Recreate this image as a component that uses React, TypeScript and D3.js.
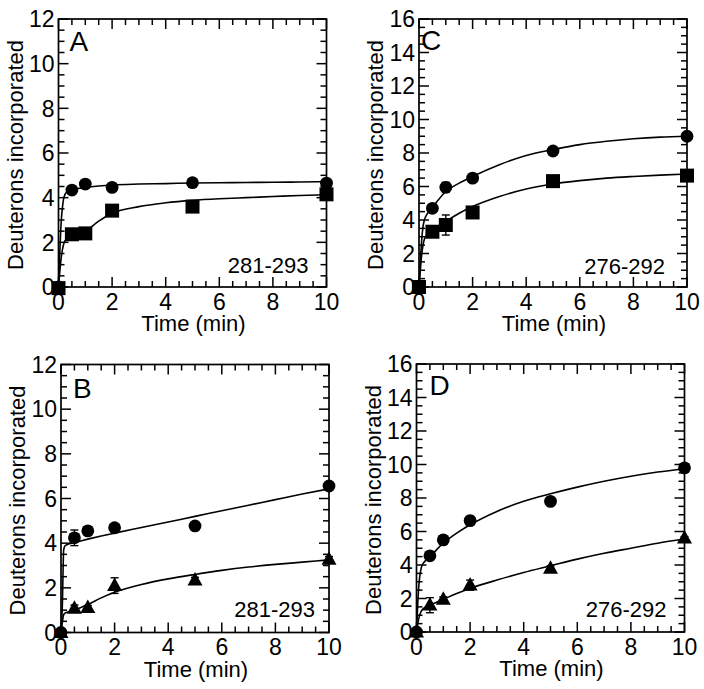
import React from 'react';
import * as d3 from 'd3';

// ---------- data ----------
const times = [0, 0.5, 1, 2, 5, 10];

// Panel A (281-293)
const aCircle = [0, 4.34, 4.61, 4.46, 4.67, 4.65];
const aCircleErr = [0.1, 0.12, 0.12, 0.1, 0.1, 0.15];
const aSquare = [-0.05, 2.36, 2.4, 3.42, 3.6, 4.15];
const aSquareErr = [0.1, 0.1, 0.12, 0.15, 0.1, 0.1];

// Panel C (276-292)
const cCircle = [0, 4.7, 5.95, 6.5, 8.12, 9.0];
const cCircleErr = [0.1, 0.15, 0.3, 0.15, 0.15, 0.1];
const cSquare = [0, 3.3, 3.7, 4.45, 6.32, 6.65];
const cSquareErr = [0.1, 0.15, 0.6, 0.15, 0.3, 0.15];

// Panel B (281-293)
const bCircle = [0, 4.24, 4.55, 4.69, 4.77, 6.56];
const bCircleErr = [0.1, 0.35, 0.12, 0.12, 0.1, 0.12];
const bTriangle = [0, 1.08, 1.11, 2.1, 2.35, 3.28];
const bTriangleErr = [0.05, 0.15, 0.1, 0.35, 0.12, 0.12];

// Panel D (276-292)
const dCircle = [0, 4.55, 5.5, 6.65, 7.8, 9.8];
const dCircleErr = [0.1, 0.15, 0.15, 0.25, 0.15, 0.15];
const dTriangle = [0, 1.6, 1.95, 2.8, 3.8, 5.6];
const dTriangleErr = [0.05, 0.45, 0.15, 0.3, 0.15, 0.1];

// fitted curves (at these times)
const fitT = [0, 0.05, 0.1, 0.15, 0.2, 0.3, 0.5, 1, 1.5, 2, 3, 4, 5, 6, 7, 8, 9, 10];
const fitACircle = [0, 1.6, 2.9, 3.6, 4.0, 4.25, 4.35, 4.45, 4.52, 4.57, 4.61, 4.63, 4.66, 4.67, 4.68, 4.69, 4.7, 4.72];
const fitASquare = [0, 0.7, 1.3, 1.7, 1.95, 2.15, 2.3, 2.5, 2.95, 3.3, 3.6, 3.77, 3.88, 3.95, 4.0, 4.05, 4.1, 4.13];
const fitCCircle = [0, 1.5, 2.8, 3.6, 4.0, 4.35, 4.75, 5.7, 6.2, 6.6, 7.3, 7.85, 8.2, 8.5, 8.7, 8.85, 8.95, 9.0];
const fitCSquare = [0, 1.0, 1.9, 2.5, 2.85, 3.1, 3.35, 3.9, 4.4, 4.8, 5.4, 5.85, 6.15, 6.35, 6.5, 6.6, 6.68, 6.75];
const fitBCircle = [0, 1.2, 3.7, 3.88, 3.92, 3.97, 4.03, 4.18, 4.32, 4.45, 4.7, 4.95, 5.2, 5.45, 5.7, 5.95, 6.2, 6.43];
const fitBTriangle = [0, 0.45, 0.8, 0.87, 0.9, 0.93, 1.0, 1.25, 1.55, 1.8, 2.15, 2.4, 2.6, 2.78, 2.93, 3.05, 3.15, 3.25];
const fitDCircle = [0, 1.8, 3.0, 3.6, 3.95, 4.2, 4.5, 5.3, 5.9, 6.4, 7.2, 7.8, 8.25, 8.65, 9.0, 9.3, 9.55, 9.75];
const fitDTriangle = [0, 0.5, 0.9, 1.15, 1.3, 1.45, 1.6, 1.95, 2.3, 2.6, 3.1, 3.55, 3.95, 4.35, 4.7, 5.0, 5.3, 5.55];

const xTickLabels = [0, 2, 4, 6, 8, 10];

type Shape = 'circle' | 'square' | 'triangle';
interface Series { shape: Shape; values: number[]; errs: number[]; fit: number[]; }

interface PanelProps {
  left: number; top: number; yMax: number; letter: string; peptide: string;
  letterDx: number; letterDy: number; pepDx: number; pepDy: number;
  series: Series[];
}

const FONT = '"Liberation Sans", Arial, Helvetica, sans-serif';
const W = 268;
const H = 268;

function Marker({ shape, cx, cy }: { shape: Shape; cx: number; cy: number }) {
  if (shape === 'circle') return <circle cx={cx} cy={cy} r={6.4} fill="#000" />;
  if (shape === 'square') return <rect x={cx - 7} y={cy - 7} width={14} height={14} fill="#000" />;
  const s = 15, h = 13.5;
  return <path d={`M${cx},${cy - h * 0.6}L${cx + s / 2},${cy + h * 0.4}L${cx - s / 2},${cy + h * 0.4}Z`} fill="#000" />;
}

function Panel(p: PanelProps) {
  const x = d3.scaleLinear().domain([0, 10]).range([p.left, p.left + W]);
  const y = d3.scaleLinear().domain([0, p.yMax]).range([p.top + H, p.top]);
  const xt = d3.range(0, 10.001, 0.5);
  const yt = d3.range(0, p.yMax + 0.001, 0.5);
  const yLabels = d3.range(0, p.yMax + 0.001, 2);
  const isMajor = (v: number) => Math.abs(v / 2 - Math.round(v / 2)) < 1e-6;
  const line = d3.line<number>().x((_, i) => x(fitT[i])).y((v) => y(v)).curve(d3.curveMonotoneX);
  const bottom = p.top + H;
  const right = p.left + W;
  const sw = 1.5;
  return (
    <g>
      {/* ticks */}
      {xt.map((v) => {
        const L = isMajor(v) ? 10 : 6;
        return (
          <g key={'x' + v}>
            <line x1={x(v)} x2={x(v)} y1={bottom} y2={bottom - L} stroke="#000" strokeWidth={sw} />
            <line x1={x(v)} x2={x(v)} y1={p.top} y2={p.top + L} stroke="#000" strokeWidth={sw} />
          </g>
        );
      })}
      {yt.map((v) => {
        const L = isMajor(v) ? 10 : 6;
        return (
          <g key={'y' + v}>
            <line x1={p.left} x2={p.left + L} y1={y(v)} y2={y(v)} stroke="#000" strokeWidth={sw} />
            <line x1={right} x2={right - L} y1={y(v)} y2={y(v)} stroke="#000" strokeWidth={sw} />
          </g>
        );
      })}
      <rect x={p.left} y={p.top} width={W} height={H} fill="none" stroke="#000" strokeWidth={1.7} />
      {/* tick labels */}
      {xTickLabels.map((v) => (
        <text key={'xl' + v} x={x(v)} y={bottom + 22.5} textAnchor="middle" fontSize={23} fontFamily={FONT}>{v}</text>
      ))}
      {yLabels.map((v) => (
        <text key={'yl' + v} x={p.left - 4} y={y(v)} dy="0.36em" textAnchor="end" fontSize={23} fontFamily={FONT}>{v}</text>
      ))}
      <text x={p.left + W / 2 + 1} y={bottom + 44} textAnchor="middle" fontSize={22} fontFamily={FONT}>Time (min)</text>
      <text transform={`translate(${p.left - 36},${p.top + H / 2 + 2}) rotate(-90)`} textAnchor="middle" fontSize={22} fontFamily={FONT}>Deuterons incorporated</text>
      <text x={p.left + p.letterDx} y={p.top + p.letterDy} fontSize={28} fontFamily={FONT}>{p.letter}</text>
      <text x={right - p.pepDx} y={bottom - p.pepDy} textAnchor="end" fontSize={22} fontFamily={FONT}>{p.peptide}</text>
      {/* fits */}
      {p.series.map((s, si) => (
        <path key={'f' + si} d={line(s.fit) || ''} fill="none" stroke="#000" strokeWidth={1.6} />
      ))}
      {/* error bars + markers */}
      {p.series.map((s, si) => (
        <g key={'s' + si}>
          {times.map((t, i) => {
            const cx = x(t), cy = y(s.values[i]);
            const y1 = y(s.values[i] + s.errs[i]), y2 = y(s.values[i] - s.errs[i]);
            return (
              <g key={i}>
                <line x1={cx} x2={cx} y1={y1} y2={y2} stroke="#000" strokeWidth={1.4} />
                <line x1={cx - 4} x2={cx + 4} y1={y1} y2={y1} stroke="#000" strokeWidth={1.4} />
                <line x1={cx - 4} x2={cx + 4} y1={y2} y2={y2} stroke="#000" strokeWidth={1.4} />
                <Marker shape={s.shape} cx={cx} cy={cy} />
              </g>
            );
          })}
        </g>
      ))}
    </g>
  );
}

export default function App() {
  return (
    <svg width={704} height={689} style={{ position: 'absolute', left: 0, top: 0, background: '#fff' }}>
      <rect width={704} height={689} fill="#fff" />
      <Panel left={58.5} top={19} yMax={12} letter="A" peptide="281-293" letterDx={11} letterDy={32} pepDx={18} pepDy={14}
        series={[
          { shape: 'circle', values: aCircle, errs: aCircleErr, fit: fitACircle },
          { shape: 'square', values: aSquare, errs: aSquareErr, fit: fitASquare },
        ]} />
      <Panel left={419} top={19} yMax={16} letter="C" peptide="276-292" letterDx={2} letterDy={31} pepDx={22} pepDy={13}
        series={[
          { shape: 'circle', values: cCircle, errs: cCircleErr, fit: fitCCircle },
          { shape: 'square', values: cSquare, errs: cSquareErr, fit: fitCSquare },
        ]} />
      <Panel left={61} top={364.5} yMax={12} letter="B" peptide="281-293" letterDx={12} letterDy={33} pepDx={14} pepDy={16}
        series={[
          { shape: 'circle', values: bCircle, errs: bCircleErr, fit: fitBCircle },
          { shape: 'triangle', values: bTriangle, errs: bTriangleErr, fit: fitBTriangle },
        ]} />
      <Panel left={416.5} top={364} yMax={16} letter="D" peptide="276-292" letterDx={13} letterDy={31} pepDx={18} pepDy={15}
        series={[
          { shape: 'circle', values: dCircle, errs: dCircleErr, fit: fitDCircle },
          { shape: 'triangle', values: dTriangle, errs: dTriangleErr, fit: fitDTriangle },
        ]} />
    </svg>
  );
}
